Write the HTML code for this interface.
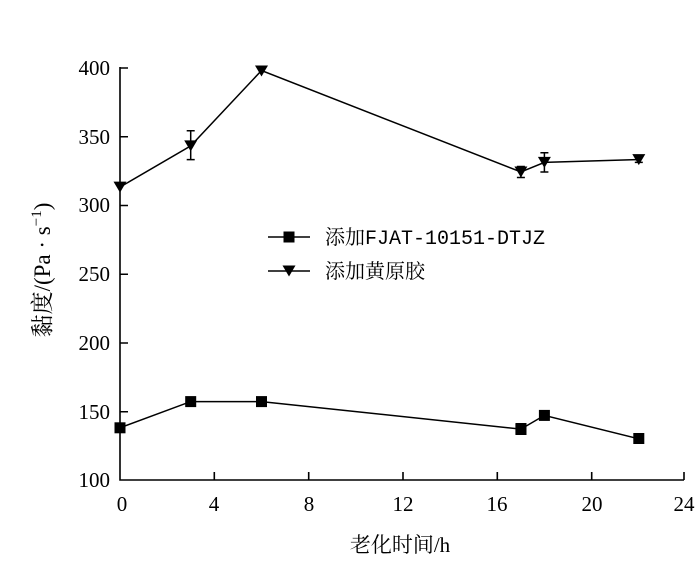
<!DOCTYPE html>
<html><head><meta charset="utf-8"><style>body{margin:0;background:#fff}</style></head><body>
<svg width="700" height="563" viewBox="0 0 700 563" xmlns="http://www.w3.org/2000/svg" font-family="'Liberation Serif','Noto Serif CJK SC',serif" fill="#000">
<defs>
<path id="tri" d="M-6.5,-5.5 L6.5,-5.5 L0,5.5 Z"/>
<rect id="sq" x="-5.5" y="-5.5" width="11" height="11"/>
</defs>
<g stroke="#000" stroke-width="1.6" fill="none">
<path d="M120,67 V480 H684"/>
<path d="M120,68 h8 M120,136.75 h8 M120,205.5 h8 M120,274.25 h8 M120,343 h8 M120,411.75 h8"/>
<path d="M214.3,480 v-8 M308.7,480 v-8 M403,480 v-8 M497.3,480 v-8 M591.7,480 v-8 M684,480 v-8"/>
</g>
<g font-size="21" text-anchor="end">
<text x="110" y="75">400</text><text x="110" y="144">350</text><text x="110" y="212">300</text>
<text x="110" y="281">250</text><text x="110" y="350">200</text><text x="110" y="419">150</text><text x="110" y="487">100</text>
</g>
<g font-size="21" text-anchor="middle">
<text x="122" y="511">0</text><text x="214" y="511">4</text><text x="309" y="511">8</text><text x="403" y="511">12</text>
<text x="497" y="511">16</text><text x="592" y="511">20</text><text x="684" y="511">24</text>
</g>
<text x="400" y="552" font-size="21" text-anchor="middle">老化时间/h</text>
<text transform="translate(50,270) rotate(-90)" font-size="23" text-anchor="middle">黏度/(Pa · s<tspan font-size="15" dy="-9">−1</tspan><tspan dy="9">)</tspan></text>
<g stroke="#000" stroke-width="1.5" fill="none">
<polyline points="120,187.1 190.7,145.9 261.5,70.5 520.9,172 544.4,162.4 638.8,159.6"/>
<polyline points="120,427.8 190.7,401.6 261.5,401.6 520.9,429.1 544.4,415.4 638.8,438.8"/>
<path d="M190.7,130.7 v28.9 M186.7,130.7 h8 M186.7,159.6 h8 M520.9,166.5 v11 M516.9,166.5 h8 M516.9,177.5 h8 M544.4,152.8 v19.2 M540.4,152.8 h8 M540.4,172 h8 M638.8,156.9 v5.5 M634.8,156.9 h8 M634.8,162.4 h8 M520.9,423.6 v11 M638.8,434.6 v8.3"/>
<path d="M268,237 h42 M268,271 h42"/>
</g>
<g>
<use href="#tri" x="120" y="187.1"/>
<use href="#tri" x="190.7" y="145.9"/>
<use href="#tri" x="261.5" y="71"/>
<use href="#tri" x="520.9" y="172"/>
<use href="#tri" x="544.4" y="162.4"/>
<use href="#tri" x="638.8" y="159.6"/>
<use href="#tri" x="289" y="271"/>
<use href="#sq" x="120" y="427.8"/>
<use href="#sq" x="190.7" y="401.6"/>
<use href="#sq" x="261.5" y="401.6"/>
<use href="#sq" x="520.9" y="429.1"/>
<rect x="515.5" y="423" width="11" height="12"/>
<use href="#sq" x="544.4" y="415.4"/>
<rect x="633.3" y="433" width="11" height="11"/>
<use href="#sq" x="289" y="237"/>
</g>
<g font-size="20"><text x="325" y="244">添加<tspan font-family="'Liberation Mono',monospace">FJAT-10151-DTJZ</tspan></text><text x="325" y="278">添加黄原胶</text></g>
</svg>
</body></html>
